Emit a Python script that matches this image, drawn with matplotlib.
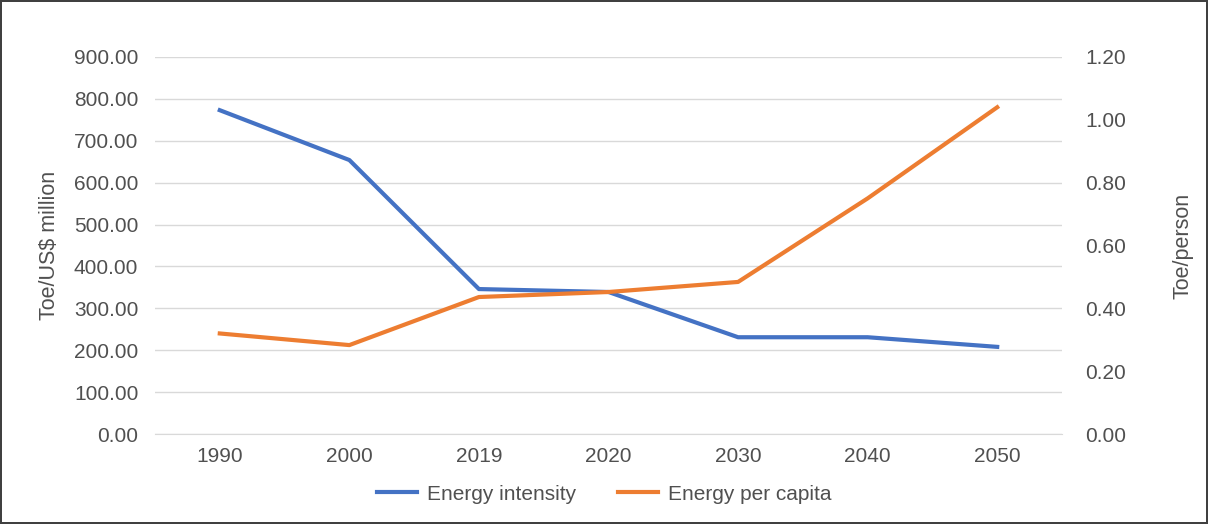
import matplotlib.pyplot as plt
from matplotlib.ticker import FormatStrFormatter

years = ['1990', '2000', '2019', '2020', '2030', '2040', '2050']
energy_intensity = [773, 654, 346, 339, 231, 231, 208]
energy_per_capita = [0.32, 0.283, 0.436, 0.452, 0.484, 0.75, 1.04]

plt.rcParams['font.family'] = ['Liberation Sans', 'DejaVu Sans']
txt = '#505050'

fig = plt.figure(figsize=(12.08, 5.24), dpi=100)
fig.patch.set_edgecolor('#404040')
fig.patch.set_linewidth(1.5)
ax = fig.add_axes([155 / 1208, 1 - 434 / 524, (1062 - 155) / 1208, (434 - 57) / 524])
ax2 = ax.twinx()

x = range(len(years))
l1, = ax.plot(x, energy_intensity, color='#4472c4', lw=3, label='Energy intensity')
l2, = ax2.plot(x, energy_per_capita, color='#ed7d31', lw=3, label='Energy per capita')

ax.set_xlim(-0.5, len(years) - 0.5)
ax.set_ylim(0, 900)
ax.set_yticks(range(0, 901, 100))
ax.yaxis.set_major_formatter(FormatStrFormatter('%.2f'))
ax2.set_ylim(0, 1.2)
ax2.set_yticks([0, 0.2, 0.4, 0.6, 0.8, 1.0, 1.2])
ax2.yaxis.set_major_formatter(FormatStrFormatter('%.2f'))
ax.set_xticks(list(x))
ax.set_xticklabels(years)

ax.grid(axis='y', color='#d9d9d9', lw=1)
ax.set_axisbelow(True)
for a in (ax, ax2):
    for s in a.spines.values():
        s.set_visible(False)
    a.tick_params(length=0, labelsize=15, colors=txt)
ax.spines['bottom'].set_visible(True)
ax.spines['bottom'].set_color('#d9d9d9')
ax.tick_params(axis='y', pad=12)
ax.tick_params(axis='x', pad=9)
ax2.tick_params(axis='y', pad=17)

ax.set_ylabel('Toe/US$ million', fontsize=15.5, color=txt, labelpad=10)
ax2.set_ylabel('Toe/person', fontsize=15.5, color=txt, labelpad=33)

fig.legend(handles=[l1, l2], loc='center', bbox_to_anchor=(0.5, 1 - 494 / 524),
           ncol=2, frameon=False, fontsize=15, labelcolor=txt,
           handlelength=1.95, handletextpad=0.45, columnspacing=2)

fig.savefig('out.png', dpi=100)
